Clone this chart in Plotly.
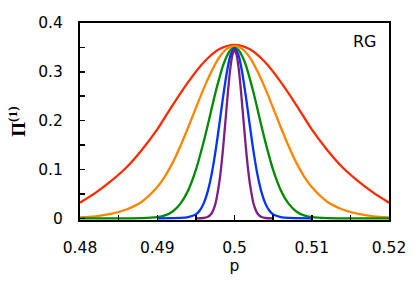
import plotly.graph_objects as go

# Red curve
red_p = [0.480, 0.482, 0.484, 0.486, 0.488, 0.490, 0.492, 0.494, 0.496, 0.498, 0.500,
         0.502, 0.504, 0.506, 0.508, 0.510, 0.512, 0.514, 0.516, 0.518, 0.520]
red_v = [0.032, 0.052, 0.076, 0.104, 0.140, 0.182, 0.232, 0.279, 0.319, 0.346, 0.355,
         0.346, 0.319, 0.279, 0.232, 0.182, 0.140, 0.104, 0.076, 0.052, 0.032]

# Orange curve
orange_p = [0.480, 0.482, 0.484, 0.486, 0.488, 0.490, 0.491, 0.492, 0.493, 0.494, 0.495,
            0.496, 0.497, 0.498, 0.499, 0.500, 0.501, 0.502, 0.503, 0.504, 0.505,
            0.506, 0.507, 0.508, 0.509, 0.510, 0.512, 0.514, 0.516, 0.518, 0.520]
orange_v = [0.002, 0.004, 0.009, 0.018, 0.034, 0.064, 0.086, 0.114, 0.148, 0.186, 0.226,
            0.265, 0.300, 0.329, 0.347, 0.353, 0.347, 0.329, 0.300, 0.265, 0.226,
            0.186, 0.148, 0.114, 0.086, 0.064, 0.034, 0.018, 0.009, 0.004, 0.002]

# Green curve
green_p = [0.480, 0.485, 0.488, 0.490, 0.491, 0.492, 0.493, 0.494, 0.495, 0.496, 0.4965,
           0.497, 0.4975, 0.498, 0.4985, 0.499, 0.4995, 0.500, 0.5005, 0.501, 0.5015,
           0.502, 0.5025, 0.503, 0.5035, 0.504, 0.505, 0.506, 0.507, 0.508, 0.509,
           0.510, 0.512, 0.515, 0.520]
green_v = [0.0, 0.0, 0.0003, 0.0025, 0.006, 0.014, 0.030, 0.057, 0.099, 0.156, 0.188,
           0.222, 0.255, 0.285, 0.312, 0.332, 0.345, 0.349, 0.345, 0.332, 0.312,
           0.285, 0.255, 0.222, 0.188, 0.156, 0.099, 0.057, 0.030, 0.014, 0.006,
           0.0025, 0.0003, 0.0, 0.0]

# Blue curve
blue_p = [0.490, 0.492, 0.493, 0.494, 0.495, 0.4955, 0.496, 0.4965, 0.497, 0.4975, 0.498,
          0.4985, 0.499, 0.4995, 0.500, 0.5005, 0.501, 0.5015, 0.502, 0.5025, 0.503,
          0.5035, 0.504, 0.5045, 0.505, 0.506, 0.507, 0.508, 0.510]
blue_v = [0.0, 0.0002, 0.0007, 0.0025, 0.008, 0.016, 0.030, 0.053, 0.087, 0.133, 0.188,
          0.246, 0.298, 0.335, 0.348, 0.335, 0.298, 0.246, 0.188, 0.133, 0.087,
          0.053, 0.030, 0.016, 0.008, 0.0025, 0.0007, 0.0002, 0.0]

# Purple curve
purple_p = [0.495, 0.496, 0.4965, 0.497, 0.4975, 0.498, 0.49825, 0.4985, 0.49875, 0.499,
            0.49925, 0.4995, 0.49975, 0.500, 0.50025, 0.5005, 0.50075, 0.501, 0.50125,
            0.5015, 0.50175, 0.502, 0.5025, 0.503, 0.5035, 0.504, 0.505]
purple_v = [0.0, 0.0006, 0.0026, 0.0094, 0.028, 0.070, 0.101, 0.140, 0.185, 0.231,
            0.276, 0.312, 0.336, 0.345, 0.336, 0.312, 0.276, 0.231, 0.185,
            0.140, 0.101, 0.070, 0.028, 0.0094, 0.0026, 0.0006, 0.0]

x_ticks = [0.48, 0.49, 0.50, 0.51, 0.52]
x_tick_text = ["0.48", "0.49", "0.5", "0.51", "0.52"]
y_ticks = [0, 0.1, 0.2, 0.3, 0.4]
y_tick_text = ["0", "0.1", "0.2", "0.3", "0.4"]

series = [
    (red_p, red_v, "#ff2a00"),
    (orange_p, orange_v, "#ff8400"),
    (green_p, green_v, "#008a00"),
    (blue_p, blue_v, "#0033ff"),
    (purple_p, purple_v, "#7b1f82"),
]

fig = go.Figure()
for px, pv, col in series:
    fig.add_trace(go.Scatter(x=px, y=pv, mode="lines",
                             line=dict(color=col, width=2.3, shape="spline", smoothing=0.8),
                             showlegend=False, hoverinfo="skip"))

font_family = "DejaVu Sans, Verdana, sans-serif"
fig.update_layout(
    width=415, height=285,
    margin=dict(l=80, r=26, t=23, b=65),
    paper_bgcolor="white", plot_bgcolor="white",
    font=dict(family=font_family, size=15.5, color="black"),
    xaxis=dict(range=[0.48, 0.52], tickvals=x_ticks, ticktext=x_tick_text,
               ticks="inside", ticklen=5, tickwidth=1.5, tickcolor="black",
               minor=dict(dtick=0.005, tick0=0.48, ticks="inside", ticklen=5, tickwidth=1.5, tickcolor="black"),
               showline=True, linecolor="black", linewidth=2, mirror=True,
               showgrid=False, zeroline=False, ticklabelstandoff=12, automargin=False,
               title=dict(text="p", standoff=0, font=dict(size=15.5))),
    yaxis=dict(range=[-0.0035, 0.4], tickvals=y_ticks, ticktext=y_tick_text,
               ticks="inside", ticklen=5, tickwidth=1.5, tickcolor="black",
               minor=dict(dtick=0.05, tick0=0, ticks="inside", ticklen=5, tickwidth=1.5, tickcolor="black"),
               showline=True, linecolor="black", linewidth=2, mirror=True,
               showgrid=False, zeroline=False, ticklabelstandoff=12, automargin=False,
               title=dict(text="<b>Π<sup>(1)</sup></b>", standoff=8,
                          font=dict(family="Liberation Serif, serif", size=19))),
    annotations=[dict(text="RG", xref="paper", yref="paper", x=0.921, y=0.905,
                      xanchor="center", yanchor="middle", showarrow=False,
                      font=dict(family=font_family, size=16, color="black"))],
)

fig.write_html("out.html", config={"displayModeBar": False, "staticPlot": True},
               post_script="document.body.style.margin='0px';document.body.style.padding='0px';")
